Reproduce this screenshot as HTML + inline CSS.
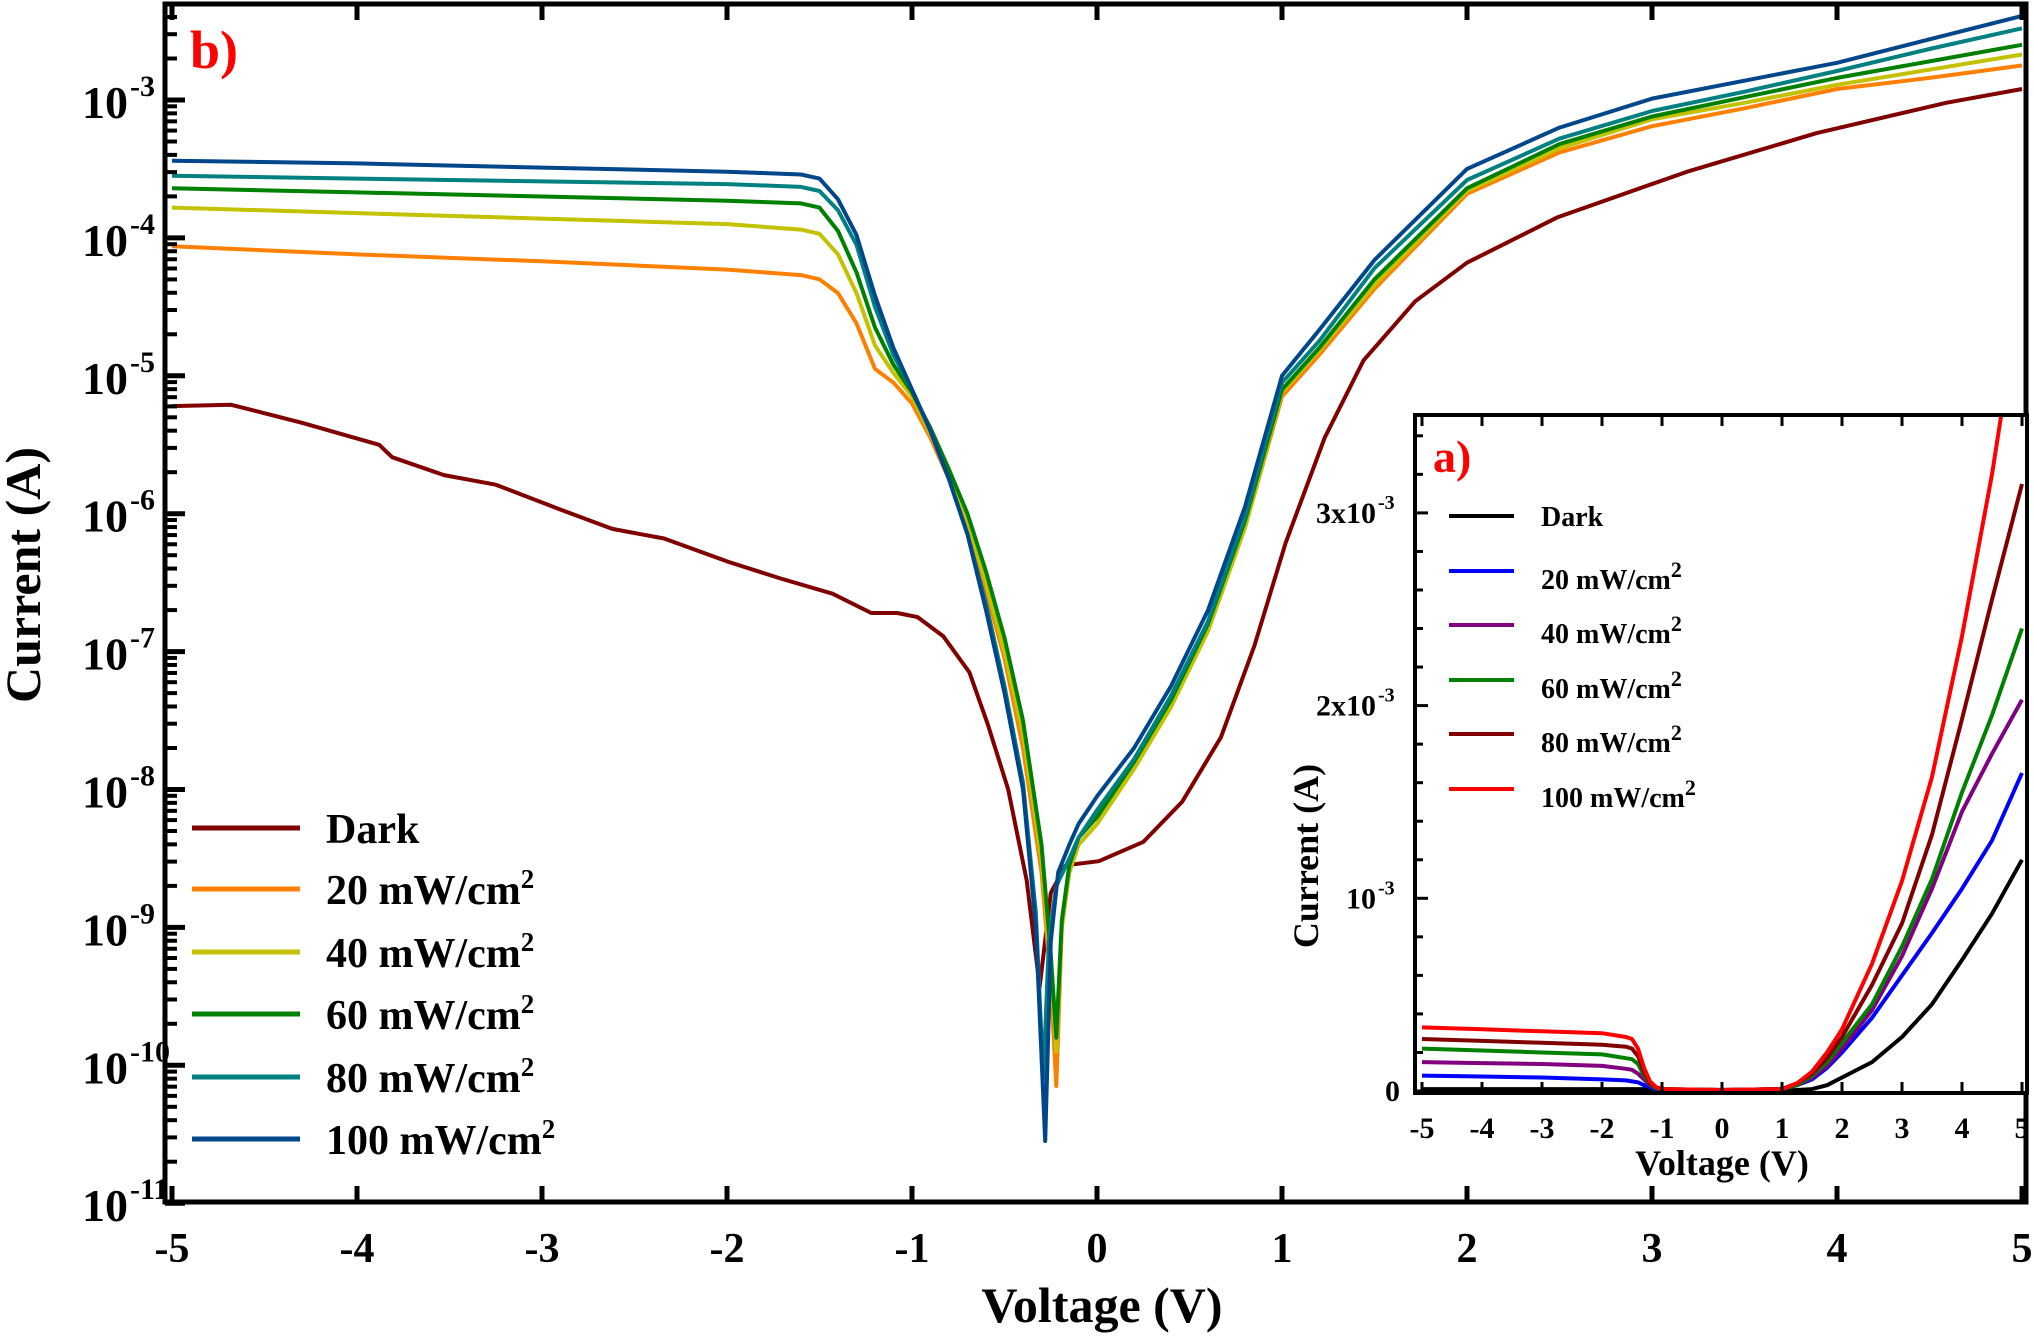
<!DOCTYPE html>
<html><head><meta charset="utf-8"><style>
html,body{margin:0;padding:0;background:#fff;}
svg{display:block;font-family:"Liberation Serif",serif;font-weight:bold;}
</style></head><body>
<svg id="chart" width="2034" height="1339" viewBox="0 0 2034 1339" xmlns="http://www.w3.org/2000/svg">
<defs>
<clipPath id="mainClip"><rect x="165" y="5" width="1860" height="1196"/></clipPath>
<clipPath id="insetClip"><rect x="1417" y="417" width="608" height="674"/></clipPath>
</defs>
<g id="main"></g>
<g id="inset"></g>
</svg>
<script>
// ---- main panel data (log10 of current in A) ----
const seriesNames = ["Dark","20 mW/cm","40 mW/cm","60 mW/cm","80 mW/cm","100 mW/cm"];
const vDark = [-5,-4.68,-4.3,-3.88,-3.81,-3.53,-3.25,-2.9,-2.62,-2.34,-1.99,-1.71,-1.43,-1.22,-1.08,-0.97,-0.83,-0.69,-0.59,-0.48,-0.38,-0.31,-0.25,-0.17,0.01,0.25,0.46,0.67,0.85,1.02,1.23,1.44,1.72,2.0,2.49,3.19,3.89,4.59,5];
const logDark = [-5.22,-5.21,-5.34,-5.50,-5.59,-5.72,-5.79,-5.97,-6.11,-6.18,-6.35,-6.47,-6.58,-6.72,-6.72,-6.75,-6.89,-7.15,-7.53,-8.0,-8.66,-9.43,-8.75,-8.55,-8.52,-8.38,-8.09,-7.62,-6.96,-6.21,-5.45,-4.89,-4.46,-4.18,-3.85,-3.52,-3.24,-3.02,-2.92];
const v20 = [-5,-4,-3,-2,-1.6,-1.5,-1.4,-1.3,-1.2,-1.1,-1.0,-0.9,-0.8,-0.7,-0.6,-0.5,-0.4,-0.3,-0.25,-0.22,-0.19,-0.15,-0.1,0,0.2,0.4,0.6,0.8,1.0,1.2,1.5,2,2.5,3,3.5,4,4.5,5];
const log20 = [-4.06,-4.12,-4.17,-4.23,-4.27,-4.30,-4.40,-4.62,-4.95,-5.05,-5.2,-5.45,-5.75,-6.1,-6.55,-7.05,-7.7,-8.6,-9.4,-10.15,-9.0,-8.6,-8.4,-8.25,-7.85,-7.4,-6.85,-6.1,-5.15,-4.85,-4.37,-3.68,-3.38,-3.19,-3.06,-2.92,-2.84,-2.75];
const v40 = v20;
const log40 = [-3.78,-3.82,-3.86,-3.90,-3.94,-3.97,-4.12,-4.40,-4.78,-4.98,-5.15,-5.42,-5.72,-6.05,-6.5,-7.0,-7.6,-8.5,-9.3,-9.9,-9.0,-8.6,-8.4,-8.25,-7.85,-7.4,-6.85,-6.1,-5.12,-4.82,-4.34,-3.66,-3.35,-3.14,-3.02,-2.89,-2.78,-2.67];
const v60 = v20;
const log60 = [-3.64,-3.67,-3.70,-3.73,-3.75,-3.78,-3.95,-4.25,-4.65,-4.92,-5.12,-5.38,-5.68,-6.0,-6.42,-6.9,-7.5,-8.4,-9.2,-9.8,-8.95,-8.55,-8.35,-8.2,-7.8,-7.35,-6.8,-6.05,-5.1,-4.8,-4.3,-3.64,-3.32,-3.12,-2.98,-2.84,-2.72,-2.60];
const v80 = [-5,-4,-3,-2,-1.6,-1.5,-1.4,-1.3,-1.2,-1.1,-1.0,-0.9,-0.8,-0.7,-0.6,-0.5,-0.4,-0.33,-0.29,-0.26,-0.22,-0.15,-0.1,0,0.2,0.4,0.6,0.8,1.0,1.2,1.5,2,2.5,3,3.5,4,4.5,5];
const log80 = [-3.55,-3.57,-3.59,-3.61,-3.63,-3.66,-3.80,-4.05,-4.5,-4.85,-5.1,-5.4,-5.75,-6.15,-6.65,-7.25,-7.95,-8.9,-10.1,-9.1,-8.7,-8.5,-8.35,-8.15,-7.78,-7.32,-6.78,-6.02,-5.05,-4.75,-4.22,-3.58,-3.28,-3.08,-2.94,-2.79,-2.63,-2.48];
const v100 = [-5,-4,-3,-2,-1.6,-1.5,-1.4,-1.3,-1.2,-1.1,-1.0,-0.9,-0.8,-0.7,-0.6,-0.5,-0.4,-0.33,-0.28,-0.25,-0.21,-0.15,-0.1,0,0.2,0.4,0.6,0.8,1.0,1.2,1.5,2,2.5,3,3.5,4,4.5,5];
const log100 = [-3.44,-3.46,-3.49,-3.52,-3.54,-3.57,-3.72,-3.98,-4.42,-4.8,-5.1,-5.4,-5.75,-6.15,-6.7,-7.3,-8.0,-9.0,-10.55,-9.1,-8.6,-8.4,-8.25,-8.05,-7.7,-7.25,-6.7,-5.95,-5.0,-4.67,-4.16,-3.5,-3.2,-2.99,-2.86,-2.73,-2.56,-2.39];
const xTicks = [-5,-4,-3,-2,-1,0,1,2,3,4,5];
const yTickExps = [-3,-4,-5,-6,-7,-8,-9,-10,-11];

// ---- inset panel data (current in mA, linear) ----
const insetV = [-5,-4,-3,-2,-1.6,-1.5,-1.4,-1.3,-1.2,-1.1,-1,0,1,1.25,1.5,1.75,2,2.5,3,3.5,4,4.5,5];
const iDark = [0.01,0.01,0.01,0.01,0.01,0.01,0.01,0.01,0.005,0.003,0.002,0.001,0.002,0.005,0.01,0.03,0.07,0.15,0.28,0.45,0.68,0.92,1.2];
const i20 = [0.08,0.075,0.07,0.06,0.055,0.05,0.045,0.03,0.02,0.01,0.005,0.005,0.01,0.03,0.06,0.12,0.2,0.38,0.6,0.82,1.05,1.3,1.65];
const i40 = [0.15,0.145,0.14,0.13,0.115,0.11,0.09,0.06,0.03,0.015,0.01,0.005,0.01,0.03,0.07,0.13,0.22,0.42,0.7,1.05,1.45,1.75,2.03];
const i60 = [0.22,0.21,0.20,0.19,0.17,0.165,0.14,0.08,0.035,0.015,0.01,0.005,0.01,0.03,0.08,0.15,0.25,0.45,0.75,1.1,1.55,1.95,2.4];
const i80 = [0.27,0.26,0.25,0.24,0.23,0.22,0.18,0.10,0.04,0.02,0.01,0.005,0.01,0.04,0.09,0.17,0.28,0.55,0.87,1.33,1.93,2.55,3.15];
const i100 = [0.33,0.32,0.31,0.30,0.28,0.27,0.22,0.12,0.05,0.02,0.01,0.005,0.01,0.04,0.1,0.2,0.32,0.66,1.09,1.63,2.36,3.2,4.2];
const insetYTicks = [0,1,2,3];
const insetYLabels = ["0","10","2x10","3x10"];

const mainColors = ["#800000","#ff8000","#c2c200","#008000","#008080","#00468b"];
const insetColors = ["#000000","#0000ff","#800080","#008000","#800000","#ff0000"];
const allV = [vDark,v20,v40,v60,v80,v100];
const allL = [logDark,log20,log40,log60,log80,log100];
const allI = [iDark,i20,i40,i60,i80,i100];

const NS = "http://www.w3.org/2000/svg";
function mk(tag, attrs, parent){const e=document.createElementNS(NS,tag);for(const k in attrs)e.setAttribute(k,attrs[k]);parent.appendChild(e);return e;}
const mx = v => 172 + (v+5)*185;
const my = l => 100 + (-3-l)*137.9;
const ix = v => 1422 + (v+5)*60;
const iy = ma => 1091 - ma*192.7;

const main = document.getElementById('main');
const inset = document.getElementById('inset');

const mg = mk('g',{'clip-path':'url(#mainClip)'},main);
allV.forEach((vs,i)=>{
  const d = vs.map((v,j)=>(j?'L':'M')+mx(v).toFixed(1)+' '+my(allL[i][j]).toFixed(1)).join(' ');
  const p = mk('path',{d:d,fill:'none',stroke:mainColors[i],'stroke-width':4,'stroke-linejoin':'round'},mg);
  
  
});
const fr = mk('rect',{x:165,y:4,width:1861,height:1198,fill:'none',stroke:'#000','stroke-width':5},main);


xTicks.forEach(v=>{
  mk('line',{x1:mx(v),x2:mx(v),y1:1202,y2:1186,stroke:'#000','stroke-width':5},main);
  mk('line',{x1:mx(v),x2:mx(v),y1:4,y2:20,stroke:'#000','stroke-width':5},main);
  const t = mk('text',{x:mx(v),y:1262,'font-size':42,'text-anchor':'middle'},main);
  t.textContent = v;
  
  
});
yTickExps.forEach(e=>{
  mk('line',{x1:165,x2:185,y1:my(e),y2:my(e),stroke:'#000','stroke-width':5},main);
  if(e>-11){for(let m=2;m<=9;m++){const yy=my(e-1+Math.log10(m));mk('line',{x1:165,x2:177,y1:yy,y2:yy,stroke:'#000','stroke-width':4},main);}}
  const t = mk('text',{x:128,y:my(e)+18,'font-size':46,'text-anchor':'end'},main);
  t.textContent = '10';
  
  
  const s = mk('text',{x:130,y:my(e)-4,'font-size':30},main);
  s.textContent = e;
  
  
});
for(let m=2;m<=9;m++){const yy=my(-3+Math.log10(m));if(yy>8)mk('line',{x1:165,x2:177,y1:yy,y2:yy,stroke:'#000','stroke-width':4},main);}
let t;
t = mk('text',{x:1102,y:1322,'font-size':50,'text-anchor':'middle'},main); t.textContent='Voltage (V)';


t = mk('text',{x:0,y:0,'font-size':50,'text-anchor':'middle',transform:'translate(40,575) rotate(-90)'},main); t.textContent='Current (A)';


t = mk('text',{x:190,y:68,'font-size':54,fill:'#ff0000'},main); t.textContent='b)';


const legY=[828,889,952,1014,1077,1139];
seriesNames.forEach((n,i)=>{
  const g = mk('g',{},main);
  
  
  mk('line',{x1:192,x2:300,y1:legY[i],y2:legY[i],stroke:mainColors[i],'stroke-width':5},g);
  const tx = mk('text',{x:326,y:legY[i]+15,'font-size':42},g);
  tx.textContent = n;
  if(i>0){const s=mk('tspan',{dy:-16,'font-size':27},tx);s.textContent='2';}
});

// ---- inset ----
mk('rect',{x:1415,y:415,width:612,height:678,fill:'#fff'},inset);
const ig = mk('g',{'clip-path':'url(#insetClip)'},inset);
allI.forEach((arr,i)=>{
  const d = insetV.map((v,j)=>(j?'L':'M')+ix(v).toFixed(1)+' '+iy(arr[j]).toFixed(1)).join(' ');
  const p = mk('path',{d:d,fill:'none',stroke:insetColors[i],'stroke-width':4,'stroke-linejoin':'round'},ig);
  
  
});
const ifr = mk('rect',{x:1415,y:415,width:612,height:678,fill:'none',stroke:'#000','stroke-width':4},inset);


xTicks.forEach(v=>{
  mk('line',{x1:ix(v),x2:ix(v),y1:1093,y2:1082,stroke:'#000','stroke-width':3},inset);
  mk('line',{x1:ix(v),x2:ix(v),y1:415,y2:426,stroke:'#000','stroke-width':3},inset);
  const tt = mk('text',{x:ix(v),y:1138,'font-size':30,'text-anchor':'middle'},inset);
  tt.textContent = v;
  
  
});
for(let k=0;k<=17;k++){const yy=iy(k*0.2);const major=(k%5===0);
  mk('line',{x1:1415,x2:major?1428:1423,y1:yy,y2:yy,stroke:'#000','stroke-width':3},inset);}
insetYTicks.forEach((v,i)=>{
  const yy=iy(v);
  const tt = mk('text',{x:v===0?1400:1376,y:yy+10,'font-size':30,'text-anchor':'end'},inset);
  tt.textContent = insetYLabels[i];
  
  
  if(v>0){const s=mk('text',{x:1378,y:yy-4,'font-size':20},inset);s.textContent='-3';}
});
t = mk('text',{x:1722,y:1175,'font-size':36,'text-anchor':'middle'},inset); t.textContent='Voltage (V)';


t = mk('text',{x:0,y:0,'font-size':36,'text-anchor':'middle',transform:'translate(1318,856) rotate(-90)'},inset); t.textContent='Current (A)';


t = mk('text',{x:1433,y:472,'font-size':46,fill:'#ff0000'},inset); t.textContent='a)';


const iLegY=[516,571,625,680,734,789];
seriesNames.forEach((n,i)=>{
  const g = mk('g',{},inset);
  
  
  mk('line',{x1:1449,x2:1514,y1:iLegY[i],y2:iLegY[i],stroke:insetColors[i],'stroke-width':4},g);
  const tx = mk('text',{x:1541,y:iLegY[i]+(i?18:10),'font-size':28},g);
  tx.textContent = n;
  if(i>0){const s=mk('tspan',{dy:-12,'font-size':22},tx);s.textContent='2';}
});
</script>
</body></html>
